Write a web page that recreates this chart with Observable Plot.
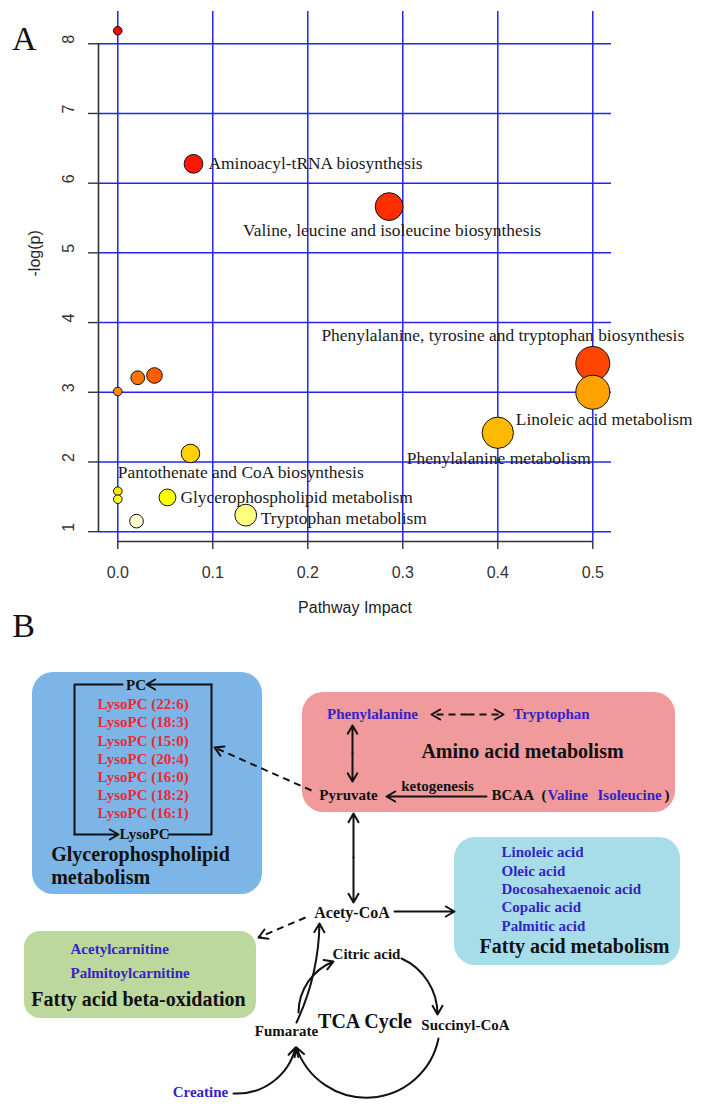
<!DOCTYPE html>
<html>
<head>
<meta charset="utf-8">
<script src="https://cdn.jsdelivr.net/npm/d3@7"></script>
<script src="https://cdn.jsdelivr.net/npm/@observablehq/plot@0.6"></script>
<style>
html, body { margin: 0; padding: 0; background: #fff; }
#wrap { position: relative; width: 702px; height: 1110px; overflow: hidden; }
#panelA, #panelB { position: absolute; left: 0; }
#panelA { top: 0; }
#panelB { top: 600px; }
svg { overflow: visible; }
</style>
</head>
<body>
<div id="wrap"><div id="panelB"></div><div id="panelA"></div></div>
<script>
// ---------------- Panel A data ----------------
const pathways = [
  "", "Aminoacyl-tRNA biosynthesis", "Valine, leucine and isoleucine biosynthesis",
  "Phenylalanine, tyrosine and tryptophan biosynthesis", "Linoleic acid metabolism",
  "Phenylalanine metabolism", "", "", "", "", "Pantothenate and CoA biosynthesis", "",
  "Glycerophospholipid metabolism", "", "Tryptophan metabolism"
];
const impact  = [0, 0.0797, 0.2856, 0.5, 0.5, 0.4, 0.021, 0.0386, 0, 0.0765, 0, 0, 0.0523, 0.0197, 0.1347];
const negLogP = [8.187, 6.278, 5.664, 3.413, 3.001, 2.419, 3.208, 3.241, 3.011, 2.122, 1.581, 1.466, 1.491, 1.151, 1.237];
const xTicks = [0, 0.1, 0.2, 0.3, 0.4, 0.5];
const yTicks = [1, 2, 3, 4, 5, 6, 7, 8];
const xTitle = "Pathway Impact";
const yTitle = "-log(p)";

// ---------------- Panel B data ----------------
const lysoPCs = ["LysoPC (22:6)", "LysoPC (18:3)", "LysoPC (15:0)", "LysoPC (20:4)", "LysoPC (16:0)", "LysoPC (18:2)", "LysoPC (16:1)"];
const fattyAcids = ["Linoleic acid", "Oleic acid", "Docosahexaenoic acid", "Copalic acid", "Palmitic acid"];
const carnitines = ["Acetylcarnitine", "Palmitoylcarnitine"];
const aminoAcids = ["Phenylalanine", "Tryptophan"];
const bcaaMembers = ["Valine", "Isoleucine"];
const boxTitles = ["Glycerophospholipid", "metabolism", "Amino acid metabolism", "Fatty acid metabolism", "Fatty acid beta-oxidation"];
const hubs = ["Pyruvate", "Acety-CoA", "Citric acid", "Succinyl-CoA", "Fumarate", "TCA Cycle", "ketogenesis", "BCAA", "PC", "LysoPC"];
const creatine = "Creatine";

// ---------------- helpers ----------------
function heatColors(n) {
  const j = Math.floor(n / 4), i = n - j, out = [];
  for (let k = 0; k < i; k++) out.push(d3.rgb(255, Math.round(255 * (i > 1 ? k / (i - 1) : 0)), 0).formatHex());
  const s0 = 1 - 1 / (2 * j), s1 = 1 / (2 * j);
  for (let k = 0; k < j; k++) {
    const s = j > 1 ? s0 + (s1 - s0) * k / (j - 1) : s0;
    out.push(d3.rgb(255, 255, Math.round(255 * (1 - s))).formatHex());
  }
  return out;
}
const serif = "'Liberation Serif','Times New Roman',serif";
const sans = "'Liberation Sans',Arial,sans-serif";

// ---------------- Panel A ----------------
const rows = pathways.map((name, i) => ({name, impact: impact[i], p: negLogP[i]}));
d3.sort(d3.range(rows.length), i => -rows[i].p).forEach((i, r) => rows[i].rank = r);
const heat = heatColors(rows.length);
const xDom = [-0.0203, 0.5197], yDom = [0.859, 8.463];
const gridColor = "#2424ee";

const labelStyle = {
  "Aminoacyl-tRNA biosynthesis": {textAnchor: "start", dx: 15, dy: 0},
  "Valine, leucine and isoleucine biosynthesis": {textAnchor: "middle", dx: 3, dy: 24},
  "Phenylalanine, tyrosine and tryptophan biosynthesis": {textAnchor: "middle", dx: -90, dy: -28},
  "Linoleic acid metabolism": {textAnchor: "start", dx: -77, dy: 27},
  "Phenylalanine metabolism": {textAnchor: "middle", dx: 1, dy: 26},
  "Pantothenate and CoA biosynthesis": {textAnchor: "start", dx: 0, dy: -19},
  "Glycerophospholipid metabolism": {textAnchor: "start", dx: 13, dy: 0},
  "Tryptophan metabolism": {textAnchor: "start", dx: 15, dy: 3}
};

const plotA = Plot.plot({
  width: 702, height: 622,
  marginLeft: 98, marginRight: 91, marginTop: 11, marginBottom: 81,
  x: {domain: xDom, label: null, axis: null},
  y: {domain: yDom, label: null, axis: null},
  r: {type: "sqrt", domain: [0, 0.5], range: [4.3, 17]},
  color: {type: "ordinal", domain: d3.range(rows.length), range: heat},
  style: {fontFamily: sans, fontSize: "16px", background: "transparent", color: "#222"},
  marks: [
    Plot.ruleX(xTicks, {stroke: gridColor, strokeWidth: 1.5}),
    Plot.ruleY(yTicks, {stroke: gridColor, strokeWidth: 1.5}),
    Plot.ruleX([xDom[0]], {y1: yTicks[0], y2: yTicks[yTicks.length - 1], stroke: "#333", strokeWidth: 1.6}),
    Plot.ruleY([yDom[0]], {x1: xTicks[0], x2: xTicks[xTicks.length - 1], stroke: "#333", strokeWidth: 1.6}),
    Plot.axisY(yTicks, {tickSize: 10, tickFormat: () => "", stroke: "#333", strokeWidth: 1.4, label: null}),
    Plot.axisX(xTicks, {tickSize: 8, tickPadding: 17, tickFormat: d3.format(".1f"), stroke: "#333", strokeWidth: 1.4, fill: "#333", fontSize: 16, label: null}),
    Plot.text(yTicks, {y: d => d, text: d => String(d), frameAnchor: "left", dx: -30, rotate: -90, fill: "#333", fontSize: 16}),
    Plot.text([yTitle], {frameAnchor: "left", dx: -64, rotate: -90, fill: "#222", fontSize: 16}),
    Plot.text([xTitle], {frameAnchor: "bottom", dy: 71, fill: "#222", fontSize: 16}),
    Plot.text(["A"], {frameAnchor: "top-left", textAnchor: "start", dx: -86.5, dy: 14.8, fontFamily: serif, fontSize: 34, fill: "#111"}),
    Plot.dot(d3.sort(rows, d => -d.p), {x: "impact", y: "p", r: "impact", fill: "rank", stroke: "#111", strokeWidth: 1}),
    ...rows.filter(d => d.name).map(d => Plot.text([d], {
      x: "impact", y: "p", text: "name", fontFamily: serif, fontSize: 17.4, fill: "#1a1a1a",
      ...labelStyle[d.name]
    }))
  ]
});
document.getElementById("panelA").append(plotA);

// ---------------- Panel B (diagram layout in page pixels) ----------------
const boxGeom = [[32, 262, 672, 894], [302, 675, 692, 812], [454, 680, 837, 965], [24, 256, 931, 1018]];
const boxFill = ["#7db5e6", "#f09a9b", "#a7dde9", "#bcd89d"];
const red = "#ea2a35", blue = "#3524c4", ink = "#111";

function txt(items, opts) {
  return Plot.text(items, {x: "x", y: "y", text: "t", fontFamily: serif, fontWeight: "bold", fontSize: 15, fill: ink, ...opts});
}
function head(x1, y1, x2, y2, len = 10, ang = 30) {
  const a = Math.atan2(y1 - y2, x1 - x2), r = ang * Math.PI / 180;
  return [
    {x: x2 + len * Math.cos(a + r), y: y2 + len * Math.sin(a + r)},
    {x: x2, y: y2},
    {x: x2 + len * Math.cos(a - r), y: y2 + len * Math.sin(a - r)}
  ];
}
const arrowOpts = {stroke: ink, strokeWidth: 2, headLength: 7.5};
const straightArrows = [
  {x1: 74, y1: 834, x2: 118, y2: 834},
  {x1: 211, y1: 684, x2: 146, y2: 684},
  {x1: 352, y1: 753, x2: 352, y2: 725},
  {x1: 352, y1: 753, x2: 352, y2: 781},
  {x1: 486, y1: 796, x2: 386, y2: 796},
  {x1: 353, y1: 857, x2: 353, y2: 813},
  {x1: 353, y1: 857, x2: 353, y2: 902},
  {x1: 394, y1: 911, x2: 454, y2: 911}
];
const curvedArrows = [
  {x1: 296, y1: 1022, x2: 319, y2: 923, bend: -12},
  {x1: 298, y1: 1012, x2: 333, y2: 961, bend: 34},
  {x1: 401, y1: 958, x2: 437, y2: 1014, bend: 33},
  {x1: 438, y1: 1038, x2: 296, y2: 1047, bend: 75},
  {x1: 233, y1: 1093, x2: 295, y2: 1047, bend: -40}
];
const dashed = [
  {x1: 311, y1: 790, x2: 214, y2: 747},
  {x1: 467, y1: 714, x2: 431, y2: 714},
  {x1: 467, y1: 714, x2: 503, y2: 714},
  {x1: 305, y1: 917, x2: 258, y2: 937}
];
const bracket = [
  {x: 122, y: 684, z: "l"}, {x: 74, y: 684, z: "l"}, {x: 74, y: 834, z: "l"},
  {x: 168, y: 834, z: "r"}, {x: 211, y: 834, z: "r"}, {x: 211, y: 684, z: "r"}
];
const heads = dashed.flatMap((d, i) => head(d.x1, d.y1, d.x2, d.y2).map(p => ({...p, z: i})));

const lysoStep = 18.1;
const plotB = Plot.plot({
  width: 702, height: 510,
  marginLeft: 0, marginRight: 0, marginTop: 0, marginBottom: 0,
  x: {domain: [0, 702], range: [0, 702], axis: null},
  y: {domain: [600, 1110], range: [0, 510], axis: null},
  style: {background: "transparent"},
  marks: [
    ...boxGeom.map((g, i) => Plot.rect([g], {x1: d => d[0], x2: d => d[1], y1: d => d[2], y2: d => d[3], fill: boxFill[i], rx: i === 3 ? 16 : 21})),
    Plot.text(["B"], {x: () => 11.7, y: () => 626, textAnchor: "start", fontFamily: serif, fontSize: 34, fill: ink}),
    // bracket and arrows
    Plot.line(bracket, {x: "x", y: "y", z: "z", stroke: ink, strokeWidth: 2}),
    ...straightArrows.map(a => Plot.arrow([a], {x1: "x1", y1: "y1", x2: "x2", y2: "y2", ...arrowOpts})),
    ...curvedArrows.map(a => Plot.arrow([a], {x1: "x1", y1: "y1", x2: "x2", y2: "y2", bend: a.bend, ...arrowOpts})),
    Plot.link(dashed, {x1: "x1", y1: "y1", x2: "x2", y2: "y2", stroke: ink, strokeWidth: 2, strokeDasharray: "7,5"}),
    Plot.line(heads, {x: "x", y: "y", z: "z", stroke: ink, strokeWidth: 2}),
    // Glycerophospholipid box
    txt([{t: hubs[8], x: 135.5, y: 685}], {fontSize: 15}),
    txt(lysoPCs.map((t, i) => ({t, x: 142.7, y: 704 + i * lysoStep})), {fill: red}),
    txt([{t: hubs[9], x: 144, y: 834}]),
    txt([{t: boxTitles[0], x: 50.7, y: 854}, {t: boxTitles[1], x: 50.7, y: 877}], {textAnchor: "start", fontSize: 20}),
    // Amino acid box
    txt([{t: aminoAcids[0], x: 372, y: 714}, {t: aminoAcids[1], x: 551, y: 714}], {fill: blue}),
    txt([{t: boxTitles[2], x: 522, y: 751}], {fontSize: 20}),
    txt([{t: hubs[0], x: 348, y: 795}, {t: hubs[6], x: 437, y: 786}]),
    txt([{t: hubs[7], x: 491, y: 795}, {t: "(", x: 541, y: 795}, {t: ")", x: 664, y: 795}], {textAnchor: "start"}),
    txt([{t: bcaaMembers[0], x: 547, y: 795}, {t: bcaaMembers[1], x: 597, y: 795}], {textAnchor: "start", fill: blue}),
    // Fatty acid box
    txt(fattyAcids.map((t, i) => ({t, x: 501, y: 852 + i * 18.3})), {textAnchor: "start", fill: blue}),
    txt([{t: boxTitles[3], x: 574, y: 946}], {fontSize: 20}),
    // beta-oxidation box
    txt(carnitines.map((t, i) => ({t, x: 70, y: 949 + i * 23.5})), {textAnchor: "start", fill: blue}),
    txt([{t: boxTitles[4], x: 138, y: 999}], {fontSize: 20}),
    // TCA cycle
    txt([{t: hubs[1], x: 351.5, y: 912}], {fontSize: 16}),
    txt([{t: hubs[2], x: 366, y: 954}, {t: hubs[3], x: 465, y: 1025}, {t: hubs[4], x: 286, y: 1031}]),
    txt([{t: hubs[5], x: 364.5, y: 1021}], {fontSize: 20}),
    txt([{t: creatine, x: 200, y: 1092}], {fill: blue})
  ]
});
document.getElementById("panelB").append(plotB);
</script>
</body>
</html>
